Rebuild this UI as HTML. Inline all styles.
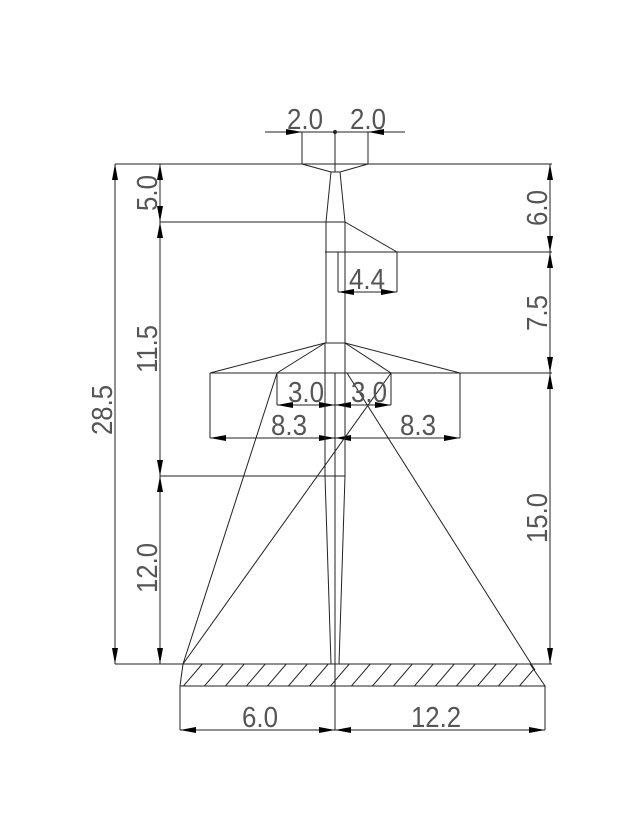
<!DOCTYPE html>
<html><head><meta charset="utf-8"><style>
html,body{margin:0;padding:0;background:#fff;}
svg{display:block;}
text{font-family:"Liberation Sans",sans-serif;font-size:29px;fill:#555;text-anchor:middle;}
</style></head><body>
<svg width="640" height="840" viewBox="0 0 640 840" xmlns="http://www.w3.org/2000/svg">
<defs>
<marker id="a" viewBox="0 0 16 6" refX="16" refY="3" markerWidth="16" markerHeight="6" markerUnits="userSpaceOnUse" orient="auto-start-reverse"><path d="M0,0 L16,3 L0,6 Z" fill="#000"/></marker>
<clipPath id="hc"><polygon points="183,664 530,664 545,686 180,686"/></clipPath>
</defs>
<g stroke="#222" stroke-width="1" fill="none">
<!-- top dim -->
<line x1="265" y1="132" x2="405" y2="132"/>
<line x1="285" y1="132" x2="302" y2="132" marker-end="url(#a)"/>
<line x1="385" y1="132" x2="368" y2="132" marker-end="url(#a)"/>
<circle cx="335" cy="132" r="1.5" fill="#222"/>
<line x1="302" y1="132" x2="302" y2="164"/>
<line x1="368" y1="132" x2="368" y2="164"/>
<line x1="335" y1="132" x2="335" y2="172"/>
<!-- horizontals -->
<line x1="115" y1="164" x2="552" y2="164"/>
<line x1="160" y1="222" x2="345" y2="222"/>
<line x1="325" y1="252" x2="552" y2="252"/>
<line x1="210" y1="373" x2="552" y2="373"/>
<line x1="160" y1="476" x2="345" y2="476"/>
<line x1="115" y1="664" x2="552" y2="664"/>
<!-- top head -->
<polyline points="302,164 331,172 340,172 368,164"/>
<line x1="331" y1="172" x2="326" y2="222"/>
<line x1="340" y1="172" x2="345" y2="222"/>
<line x1="326" y1="222" x2="326" y2="343"/>
<line x1="345" y1="222" x2="345" y2="343"/>
<!-- upper arm -->
<polyline points="345,222 397,252 397,292"/>
<line x1="338" y1="252" x2="338" y2="292"/>
<line x1="338" y1="292" x2="397" y2="292" marker-start="url(#a)" marker-end="url(#a)"/>
<!-- mid arm -->
<line x1="325" y1="343" x2="345" y2="343"/>
<line x1="325" y1="343" x2="210" y2="373"/>
<line x1="345" y1="343" x2="460" y2="373"/>
<line x1="325" y1="343" x2="277" y2="373"/>
<line x1="345" y1="343" x2="391" y2="373"/>
<line x1="210" y1="373" x2="210" y2="438"/>
<line x1="460" y1="373" x2="460" y2="438"/>
<line x1="277" y1="373" x2="277" y2="405"/>
<line x1="391" y1="373" x2="391" y2="405"/>
<line x1="335" y1="373" x2="335" y2="665"/>
<line x1="277" y1="405" x2="335" y2="405" marker-start="url(#a)" marker-end="url(#a)"/>
<line x1="335" y1="405" x2="391" y2="405" marker-start="url(#a)" marker-end="url(#a)"/>
<line x1="210" y1="438" x2="335" y2="438" marker-start="url(#a)" marker-end="url(#a)"/>
<line x1="335" y1="438" x2="460" y2="438" marker-start="url(#a)" marker-end="url(#a)"/>
<line x1="325" y1="343" x2="325" y2="476"/>
<line x1="345" y1="343" x2="345" y2="476"/>
<!-- lower shaft -->
<line x1="325" y1="476" x2="331" y2="664"/>
<line x1="345" y1="476" x2="339" y2="664"/>
<!-- diagonals -->
<line x1="277" y1="373" x2="183" y2="664"/>
<line x1="391" y1="373" x2="183" y2="664"/>
<line x1="347" y1="373" x2="535" y2="670"/>
<!-- foundation -->
<polygon points="183,664 530,664 545,686 180,686"/>
<g clip-path="url(#hc)">
<path d="M180,690 l24,-28 M201,690 l24,-28 M222,690 l24,-28 M243,690 l24,-28 M264,690 l24,-28 M285,690 l24,-28 M306,690 l24,-28 M327,690 l24,-28 M348,690 l24,-28 M369,690 l24,-28 M390,690 l24,-28 M411,690 l24,-28 M432,690 l24,-28 M453,690 l24,-28 M474,690 l24,-28 M495,690 l24,-28 M516,690 l24,-28 M159,690 l24,-28"/>
</g>
<line x1="180" y1="686" x2="180" y2="730"/>
<line x1="545" y1="686" x2="545" y2="730"/>
<line x1="335" y1="664" x2="335" y2="730"/>
<line x1="180" y1="730" x2="335" y2="730" marker-start="url(#a)" marker-end="url(#a)"/>
<line x1="335" y1="730" x2="545" y2="730" marker-start="url(#a)" marker-end="url(#a)"/>
<!-- left dims -->
<line x1="115" y1="164" x2="115" y2="664" marker-start="url(#a)" marker-end="url(#a)"/>
<line x1="160" y1="164" x2="160" y2="222" marker-start="url(#a)" marker-end="url(#a)"/>
<line x1="160" y1="222" x2="160" y2="476" marker-start="url(#a)" marker-end="url(#a)"/>
<line x1="160" y1="476" x2="160" y2="664" marker-start="url(#a)" marker-end="url(#a)"/>
<!-- right dims -->
<line x1="550" y1="164" x2="550" y2="252" marker-start="url(#a)" marker-end="url(#a)"/>
<line x1="550" y1="252" x2="550" y2="373" marker-start="url(#a)" marker-end="url(#a)"/>
<line x1="550" y1="373" x2="550" y2="664" marker-start="url(#a)" marker-end="url(#a)"/>
</g>
<g>
<text x="305" y="129" textLength="36" lengthAdjust="spacingAndGlyphs">2.0</text>
<text x="368" y="129" textLength="36" lengthAdjust="spacingAndGlyphs">2.0</text>
<text x="367" y="289" textLength="36" lengthAdjust="spacingAndGlyphs">4.4</text>
<text x="306" y="402" textLength="36" lengthAdjust="spacingAndGlyphs">3.0</text>
<text x="369" y="402" textLength="36" lengthAdjust="spacingAndGlyphs">3.0</text>
<text x="289" y="435" textLength="36" lengthAdjust="spacingAndGlyphs">8.3</text>
<text x="418" y="435" textLength="36" lengthAdjust="spacingAndGlyphs">8.3</text>
<text x="260" y="727" textLength="36" lengthAdjust="spacingAndGlyphs">6.0</text>
<text x="436" y="727" textLength="50" lengthAdjust="spacingAndGlyphs">12.2</text>
<text transform="translate(157,193) rotate(-90)" textLength="36" lengthAdjust="spacingAndGlyphs">5.0</text>
<text transform="translate(157,349) rotate(-90)" textLength="48" lengthAdjust="spacingAndGlyphs">11.5</text>
<text transform="translate(157,568) rotate(-90)" textLength="50" lengthAdjust="spacingAndGlyphs">12.0</text>
<text transform="translate(112,410) rotate(-90)" textLength="50" lengthAdjust="spacingAndGlyphs">28.5</text>
<text transform="translate(547,208) rotate(-90)" textLength="36" lengthAdjust="spacingAndGlyphs">6.0</text>
<text transform="translate(547,313) rotate(-90)" textLength="36" lengthAdjust="spacingAndGlyphs">7.5</text>
<text transform="translate(547,518) rotate(-90)" textLength="50" lengthAdjust="spacingAndGlyphs">15.0</text>
</g>
</svg>
</body></html>
